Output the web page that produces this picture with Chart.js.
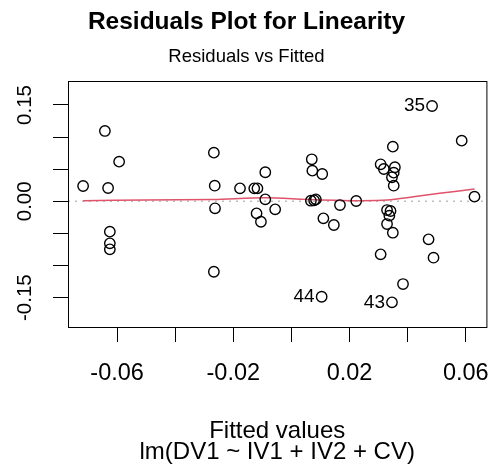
<!DOCTYPE html>
<html lang="en">
<head>
  <meta charset="UTF-8" />
  <title>Residuals Plot for Linearity</title>
  <script src="https://cdn.jsdelivr.net/npm/chart.js"></script>
  <style>
    body { margin: 0; background: #fff; }
    canvas { display: block; }
  </style>
</head>
<body>

<canvas id="residChart" width="493" height="476"></canvas>

<script>
  // fitted values / residuals (first three are the labelled ones)
  const fitted = [0.0484, 0.0104, 0.0346,
    -0.0642, -0.0593, -0.0717, -0.0631, -0.0625, -0.0625, -0.0625,
    -0.0267, -0.0264, -0.0263, -0.0267,
    -0.0177, -0.0128, -0.0117, -0.0090, -0.0090, -0.0120, -0.0105, -0.0056,
    0.0070, 0.0072, 0.0106, 0.0067, 0.0084, 0.0078, 0.0110, 0.0146, 0.0167, 0.0223,
    0.0586, 0.0630, 0.0349, 0.0307, 0.0318, 0.0356, 0.0352, 0.0346, 0.0352,
    0.0329, 0.0341, 0.0337, 0.0329, 0.0349, 0.0307, 0.0472, 0.0489, 0.0384];
  const resid = [0.1484, -0.1486, -0.1573,
    0.1095, 0.0617, 0.0238, 0.0207, -0.0473, -0.0654, -0.0748,
    0.0757, 0.0243, -0.0109, -0.1097,
    0.0202, 0.0202, 0.0202, 0.0452, 0.0031, -0.0187, -0.0318, -0.0125,
    0.0654, 0.0477, 0.0425, 0.0009, 0.0031, 0.0015, -0.0265, -0.0369, -0.0058, 0.0005,
    0.0944, 0.0072, 0.0851, 0.0576, 0.0503, 0.0530, 0.0446, 0.0374, 0.0243,
    -0.0136, -0.0151, -0.0224, -0.0354, -0.0489, -0.0826, -0.0592, -0.0878, -0.1288];
  const pointNames = ['35', '44', '43'];

  // smoother (red line)
  const smoothX = [-0.0717, -0.05, -0.027, -0.009, 0.005, 0.015, 0.022, 0.033, 0.042, 0.051, 0.063];
  const smoothY = [0.001, 0.002, 0.003, 0.0055, 0.003, 0.0015, 0.001, 0.002, 0.007, 0.0125, 0.019];

  const xTicks = [-0.06, -0.04, -0.02, 0, 0.02, 0.04, 0.06];
  const xTickLabels = ['-0.06', '-0.02', '0.02', '0.06'];
  const yTicks = [-0.15, -0.10, -0.05, 0, 0.05, 0.10, 0.15];
  const yTickLabels = ['-0.15', '0.00', '0.15'];
  const xRange = [-0.0769, 0.0671];
  const yRange = [-0.1957, 0.1873];

  const FONT = '"Liberation Sans", Arial, Helvetica, sans-serif';
  Chart.defaults.font.family = FONT;
  Chart.defaults.color = '#000';

  // box round the plot, R style y labels and point ids
  const rFrame = {
    id: 'rFrame',
    afterDraw(chart) {
      const { ctx, chartArea: a, scales: { x, y } } = chart;
      ctx.save();
      ctx.strokeStyle = '#000';
      ctx.lineWidth = 1;
      ctx.strokeRect(a.left + 0.5, a.top + 0.5, a.right - a.left, a.bottom - a.top);

      ctx.fillStyle = '#000';
      ctx.font = '20.5px ' + FONT;
      ctx.textAlign = 'center';
      ctx.textBaseline = 'middle';
      yTicks.forEach(v => {
        const txt = v.toFixed(2);
        if (!yTickLabels.includes(txt)) return;
        ctx.save();
        ctx.translate(a.left - 43, y.getPixelForValue(v));
        ctx.rotate(-Math.PI / 2);
        ctx.fillText(txt, 0, 0);
        ctx.restore();
      });

      ctx.font = '19px ' + FONT;
      ctx.textAlign = 'right';
      pointNames.forEach((name, i) => {
        ctx.fillText(name, x.getPixelForValue(fitted[i]) - 7, y.getPixelForValue(resid[i]));
      });
      ctx.restore();
    }
  };

  new Chart(document.getElementById('residChart'), {
    type: 'scatter',
    data: {
      datasets: [
        {
          data: fitted.map((v, i) => ({ x: v, y: resid[i] })),
          pointRadius: 5.2,
          pointBorderWidth: 1.4,
          pointBorderColor: '#000',
          pointBackgroundColor: 'rgba(0,0,0,0)'
        },
        {
          data: smoothX.map((v, i) => ({ x: v, y: smoothY[i] })),
          showLine: true,
          borderColor: '#DF536B',
          borderWidth: 1.5,
          tension: 0.3,
          pointRadius: 0
        },
        {
          data: xRange.map(v => ({ x: v, y: 0 })),
          showLine: true,
          borderColor: '#BEBEBE',
          borderWidth: 1.5,
          borderDash: [2, 5],
          pointRadius: 0
        }
      ]
    },
    options: {
      responsive: false,
      animation: false,
      devicePixelRatio: 1,
      layout: { padding: 0 },
      plugins: {
        legend: { display: false },
        tooltip: { enabled: false },
        title: {
          display: true,
          text: 'Residuals Plot for Linearity',
          font: { size: 24.5, weight: 'bold' },
          padding: { top: 7.8, bottom: 0 }
        },
        subtitle: {
          display: true,
          text: 'Residuals vs Fitted',
          font: { size: 18.5 },
          padding: { top: 8.2, bottom: 13.4 }
        }
      },
      scales: {
        x: {
          type: 'linear',
          min: xRange[0],
          max: xRange[1],
          afterBuildTicks: s => { s.ticks = xTicks.map(v => ({ value: v })); },
          afterFit: s => { s.height = 149; s.paddingLeft = 0; s.paddingRight = 5; },
          border: { display: false },
          grid: { drawOnChartArea: false, tickLength: 15, tickColor: '#000', tickWidth: 1 },
          ticks: {
            padding: 17,
            autoSkip: false,
            maxRotation: 0,
            font: { size: 23.5 },
            callback: v => xTickLabels.includes(v.toFixed(2)) ? v.toFixed(2) : ''
          },
          title: {
            display: true,
            text: ['Fitted values', 'lm(DV1 ~ IV1 + IV2 + CV)'],
            font: { size: 24, lineHeight: 0.87 },
            padding: { top: 0, bottom: 13 }
          }
        },
        y: {
          min: yRange[0],
          max: yRange[1],
          afterBuildTicks: s => { s.ticks = yTicks.map(v => ({ value: v })); },
          afterFit: s => { s.width = 68; s.paddingTop = 0; s.paddingBottom = 0; },
          border: { display: false },
          grid: { drawOnChartArea: false, tickLength: 15, tickColor: '#000', tickWidth: 1 },
          ticks: { display: false }
        }
      }
    },
    plugins: [rFrame]
  });
</script>

</body>
</html>
